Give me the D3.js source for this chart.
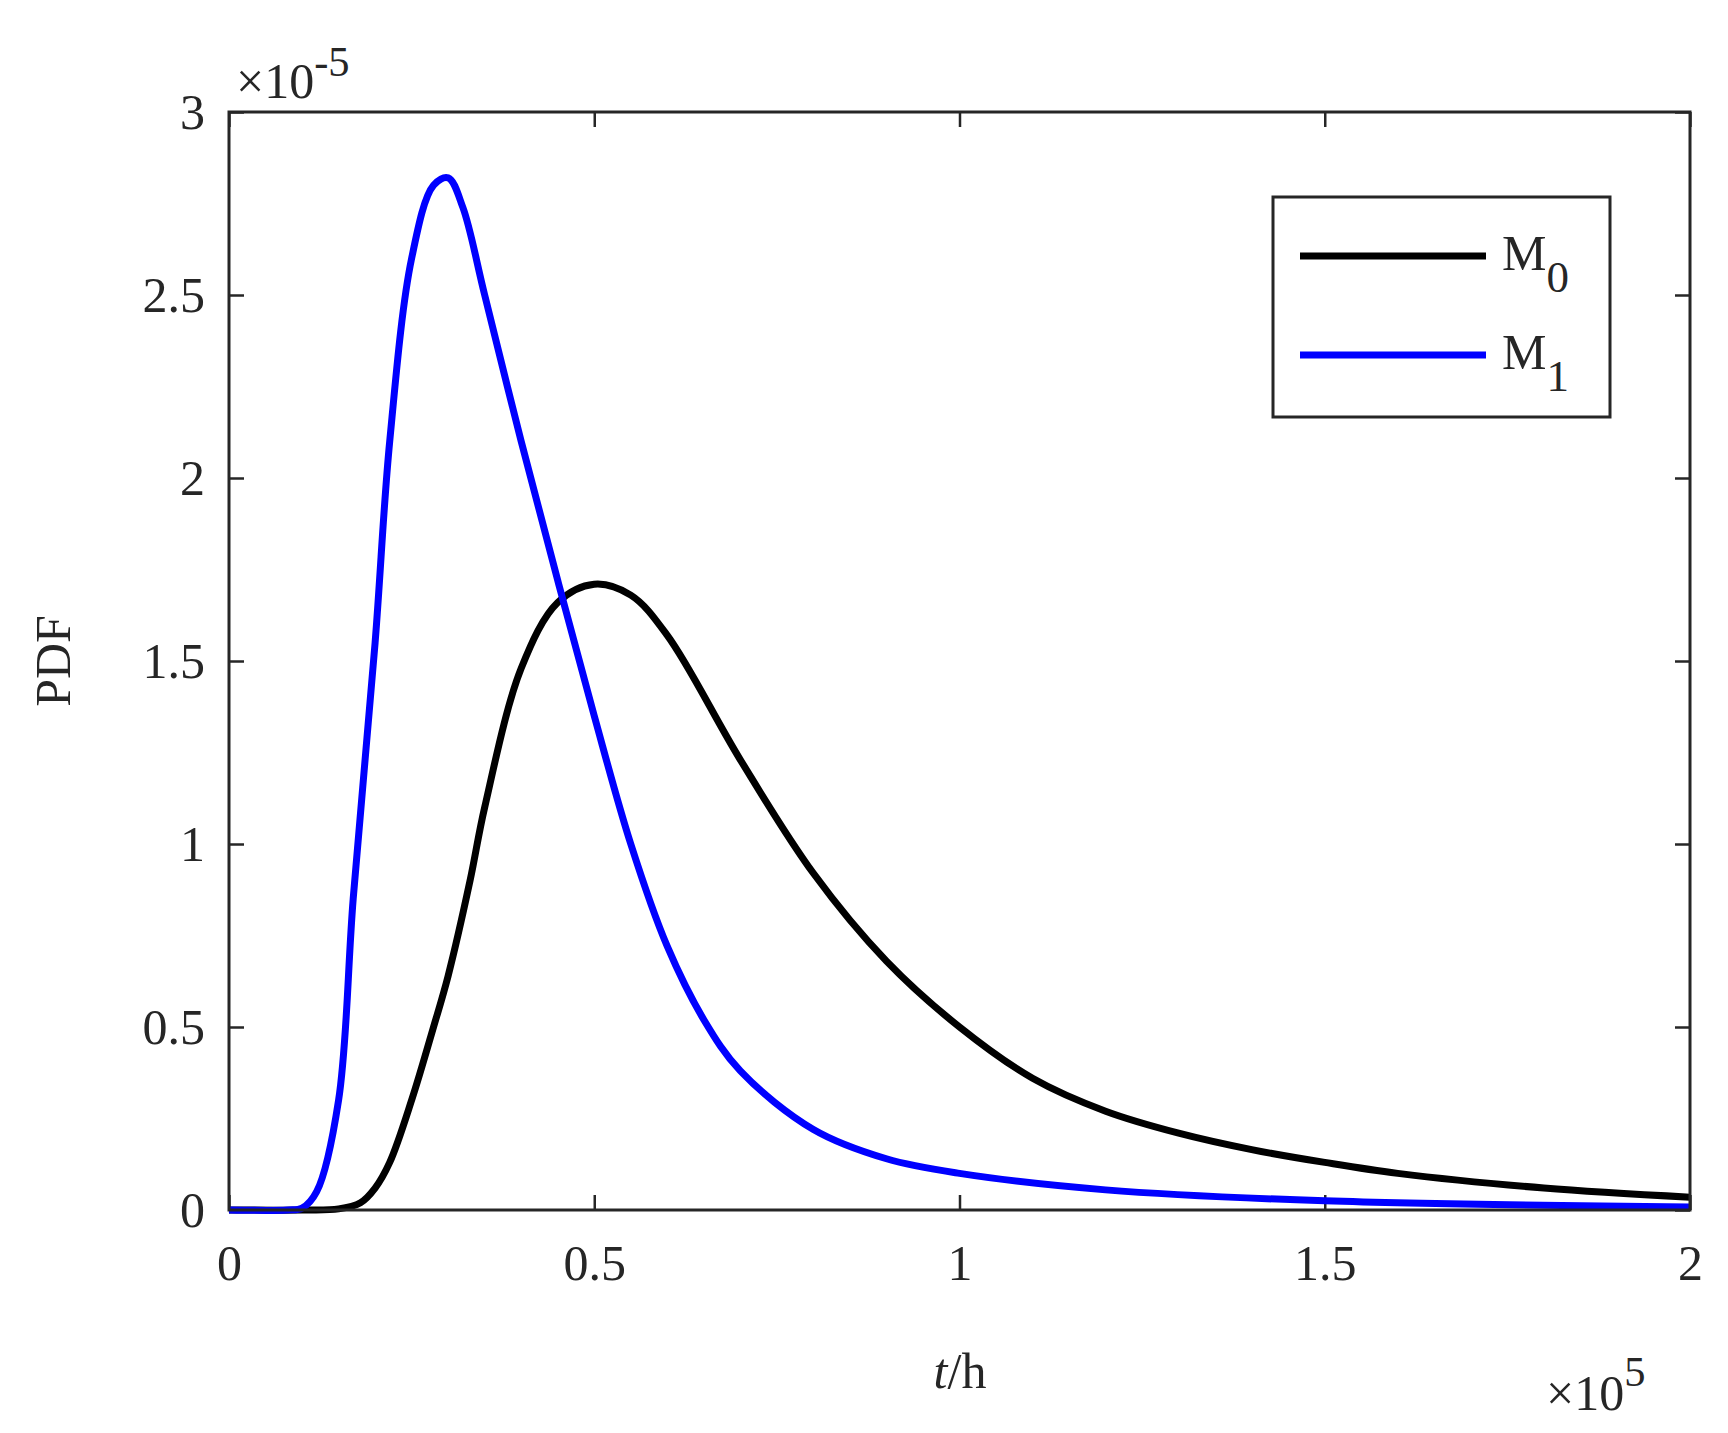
<!DOCTYPE html>
<html><head><meta charset="utf-8">
<script src="https://cdn.jsdelivr.net/npm/d3@7"></script>
<style>body{margin:0;background:#fff}text{font-family:"Liberation Serif","Times New Roman",serif;fill:#262626}</style>
</head><body><svg id="c" width="1728" height="1433"></svg>
<script>
// x in 1e5 h, y in 1e-5
var xM0 = [0,0.1,0.15,0.18,0.2,0.22,0.25,0.28,0.3,0.33,0.35,0.4,0.45,0.5,0.55,0.6,0.7,0.8,0.9,1.0,1.1,1.2,1.3,1.4,1.5,1.6,1.8,2.0];
var yM0 = [0,0,0.003,0.02,0.06,0.13,0.3,0.5,0.64,0.9,1.1,1.48,1.66,1.71,1.68,1.57,1.23,0.92,0.68,0.50,0.36,0.27,0.21,0.165,0.13,0.10,0.06,0.035];
var xM1 = [0,0.08,0.1,0.12,0.15,0.17,0.2,0.22,0.25,0.28,0.3,0.32,0.35,0.4,0.45,0.5,0.55,0.6,0.65,0.7,0.8,0.9,1.0,1.2,1.5,2.0];
var yM1 = [0,0,0.005,0.05,0.3,0.85,1.55,2.1,2.6,2.8,2.82,2.74,2.5,2.1,1.72,1.35,1.0,0.72,0.52,0.38,0.22,0.14,0.1,0.055,0.025,0.008];
var xTicks = [0,0.5,1,1.5,2];
var yTicks = [0,0.5,1,1.5,2,2.5,3];

var svg = d3.select("#c");
var L=229,R=1690,T=112,B=1210;
var x = d3.scaleLinear().domain([0,2]).range([L,R]);
var y = d3.scaleLinear().domain([0,3]).range([B,T]);
var fs = 50;

function ticks(g){ g.selectAll("text").attr("font-size",fs).style("font-family","Liberation Serif").attr("fill","#262626"); g.select(".domain").remove(); g.selectAll("line").attr("stroke","#262626").attr("stroke-width",2.5);}
svg.append("g").attr("transform","translate(0,"+B+")").call(d3.axisBottom(x).tickValues(xTicks).tickFormat(d3.format("")).tickSize(-15).tickPadding(34)).call(ticks);
svg.append("g").attr("transform","translate(0,"+T+")").call(d3.axisTop(x).tickValues(xTicks).tickSize(-15).tickFormat("")).call(ticks);
svg.append("g").attr("transform","translate("+L+",0)").call(d3.axisLeft(y).tickValues(yTicks).tickFormat(d3.format("")).tickSize(-15).tickPadding(24)).call(ticks);
svg.append("g").attr("transform","translate("+R+",0)").call(d3.axisRight(y).tickValues(yTicks).tickSize(-15).tickFormat("")).call(ticks);

var line = d3.line().x(function(d){return x(d[0]);}).y(function(d){return y(d[1]);}).curve(d3.curveCatmullRom.alpha(0.5));
svg.append("path").datum(d3.zip(xM0,yM0)).attr("d",line).attr("fill","none").attr("stroke","#000").attr("stroke-width",7);
svg.append("path").datum(d3.zip(xM1,yM1)).attr("d",line).attr("fill","none").attr("stroke","#0000ff").attr("stroke-width",7);

svg.append("rect").attr("x",L).attr("y",T).attr("width",R-L).attr("height",B-T).attr("fill","none").attr("stroke","#262626").attr("stroke-width",3);

// legend
svg.append("rect").attr("x",1273).attr("y",197).attr("width",337).attr("height",220).attr("fill","#fff").attr("stroke","#262626").attr("stroke-width",3);
[["#000",256,"0"],["#0000ff",355,"1"]].forEach(function(r){
  svg.append("line").attr("x1",1300).attr("x2",1486).attr("y1",r[1]).attr("y2",r[1]).attr("stroke",r[0]).attr("stroke-width",7);
  var t=svg.append("text").attr("x",1502).attr("y",r[1]+14).attr("font-size",fs).text("M");
  t.append("tspan").attr("dy",22).attr("font-size",fs*0.9).text(r[2]);
});

svg.append("text").attr("transform","translate(70,661) rotate(-90)").attr("text-anchor","middle").attr("font-size",fs).text("PDF");
var xl = svg.append("text").attr("x",960).attr("y",1388).attr("text-anchor","middle").attr("font-size",fs);
xl.append("tspan").attr("font-style","italic").text("t");
xl.append("tspan").text("/h");
var e1 = svg.append("text").attr("x",236).attr("y",98).attr("font-size",fs).text("×10");
e1.append("tspan").attr("dy",-22).attr("font-size",fs*0.85).text("-5");
var e2 = svg.append("text").attr("x",1546).attr("y",1410).attr("font-size",fs).text("×10");
e2.append("tspan").attr("dy",-24).attr("font-size",fs*0.85).text("5");
</script></body></html>
